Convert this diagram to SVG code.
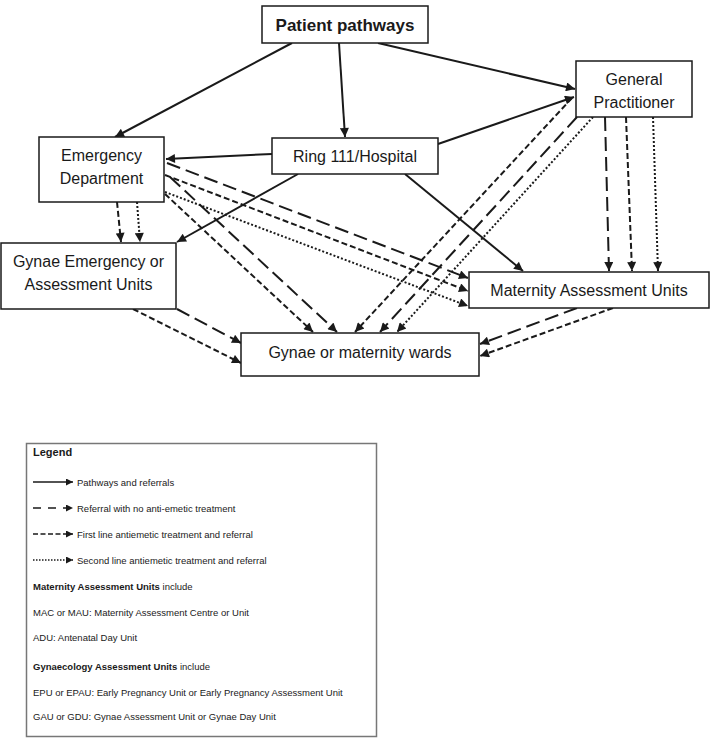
<svg xmlns="http://www.w3.org/2000/svg" width="712" height="738" viewBox="0 0 712 738">
<style>
.node{fill:#fff;stroke:#1a1a1a;stroke-width:1.5}
.t{font-family:"Liberation Sans",Arial,sans-serif;font-size:16px;fill:#1a1a1a;text-anchor:middle}
.c{fill:none;stroke:#1a1a1a;stroke-width:2;marker-end:url(#a)}
.ld{stroke-dasharray:14 6}
.sd{stroke-dasharray:6 3}
.dt{stroke-dasharray:2 2}
.lg{font-family:"Liberation Sans",Arial,sans-serif;font-size:9.5px;fill:#1a1a1a}
.ll{fill:none;stroke:#1a1a1a;stroke-width:1.6;marker-end:url(#b)}
</style>
<defs>
<marker id="a" viewBox="0 0 10 10" refX="10" refY="5" markerWidth="11" markerHeight="9" markerUnits="userSpaceOnUse" orient="auto"><path d="M0,0 L10,5 L0,10 z" fill="#1a1a1a"/></marker>
<marker id="b" viewBox="0 0 10 10" refX="10" refY="5" markerWidth="8" markerHeight="7" markerUnits="userSpaceOnUse" orient="auto"><path d="M0,0 L10,5 L0,10 z" fill="#1a1a1a"/></marker>
</defs>
<rect width="712" height="738" fill="#fff"/>
<g id="connectors">
<path class="c" d="M292,43 L115,137"/>
<path class="c" d="M339,43 L345,137"/>
<path class="c" d="M378,43 L575,89"/>
<path class="c" d="M272,154 L166,159"/>
<path class="c" d="M438,144 L574,97"/>
<path class="c" d="M298,174 L177,242"/>
<path class="c" d="M405,174 L523,271"/>
<path class="c ld" d="M167,163 L468,278"/>
<path class="c ld" d="M170,177 L337,332"/>
<path class="c ld" d="M577,117 L380,332"/>
<path class="c ld" d="M605,117 L609,271"/>
<path class="c ld" d="M577,308 L480,344"/>
<path class="c ld" d="M177,309 L241,343"/>
<path class="c sd" d="M117,202 L121,242"/>
<path class="c sd" d="M165,175 L468,291"/>
<path class="c sd" d="M165,194 L313,332"/>
<path class="c sd" d="M572,98 L355,332"/>
<path class="c sd" d="M626,117 L632,271"/>
<path class="c sd" d="M613,308 L480,356"/>
<path class="c sd" d="M133,309 L241,363"/>
<path class="c dt" d="M137,202 L140,242"/>
<path class="c dt" d="M165,192 L468,306"/>
<path class="c dt" d="M593,117 L397,332"/>
<path class="c dt" d="M653,117 L658,271"/>
</g>
<g id="patient-pathways"><rect class="node" x="262" y="6" width="166" height="37"/><text class="t" x="345" y="31" style="font-weight:bold;font-size:17px">Patient pathways</text></g>
<g id="emergency-department"><rect class="node" x="39" y="137" width="125" height="65"/><text class="t" x="101.5" y="161">Emergency</text><text class="t" x="101.5" y="184">Department</text></g>
<g id="ring-111"><rect class="node" x="272" y="138" width="166" height="36"/><text class="t" x="355" y="162">Ring 111/Hospital</text></g>
<g id="general-practitioner"><rect class="node" x="576" y="61" width="116" height="56"/><text class="t" x="634" y="85">General</text><text class="t" x="634" y="108">Practitioner</text></g>
<g id="gynae-emergency"><rect class="node" x="1" y="243" width="175" height="66"/><text class="t" x="88.5" y="267">Gynae Emergency or</text><text class="t" x="88.5" y="290">Assessment Units</text></g>
<g id="maternity-assessment"><rect class="node" x="469" y="272" width="240" height="36"/><text class="t" x="589" y="296">Maternity Assessment Units</text></g>
<g id="wards"><rect class="node" x="241" y="333" width="238" height="43"/><text class="t" x="360" y="358">Gynae or maternity wards</text></g>
<g id="legend">
<rect x="26.5" y="443.5" width="350" height="293" fill="#fff" stroke="#777" stroke-width="1.5"/>
<text class="lg" x="33" y="456" style="font-weight:bold;font-size:11px">Legend</text>
<path class="ll" d="M33,482 L73,482"/>
<text class="lg" x="77" y="485.5">Pathways and referrals</text>
<path class="ll" d="M33,508 L73,508" style="stroke-dasharray:8 7"/>
<text class="lg" x="77" y="511.5">Referral with no anti-emetic treatment</text>
<path class="ll" d="M33,534 L73,534" style="stroke-dasharray:5 2.5"/>
<text class="lg" x="77" y="537.5">First line antiemetic treatment and referral</text>
<path class="ll" d="M33,560 L73,560" style="stroke-dasharray:1.5 1.5"/>
<text class="lg" x="77" y="563.5">Second line antiemetic treatment and referral</text>
<text class="lg" x="33" y="590"><tspan font-weight="bold">Maternity Assessment Units</tspan> include</text>
<text class="lg" x="33" y="616">MAC or MAU: Maternity Assessment Centre or Unit</text>
<text class="lg" x="33" y="641">ADU: Antenatal Day Unit</text>
<text class="lg" x="33" y="670"><tspan font-weight="bold">Gynaecology Assessment Units</tspan> include</text>
<text class="lg" x="33" y="696">EPU or EPAU: Early Pregnancy Unit or Early Pregnancy Assessment Unit</text>
<text class="lg" x="33" y="720">GAU or GDU: Gynae Assessment Unit or Gynae Day Unit</text>
</g>
</svg>
